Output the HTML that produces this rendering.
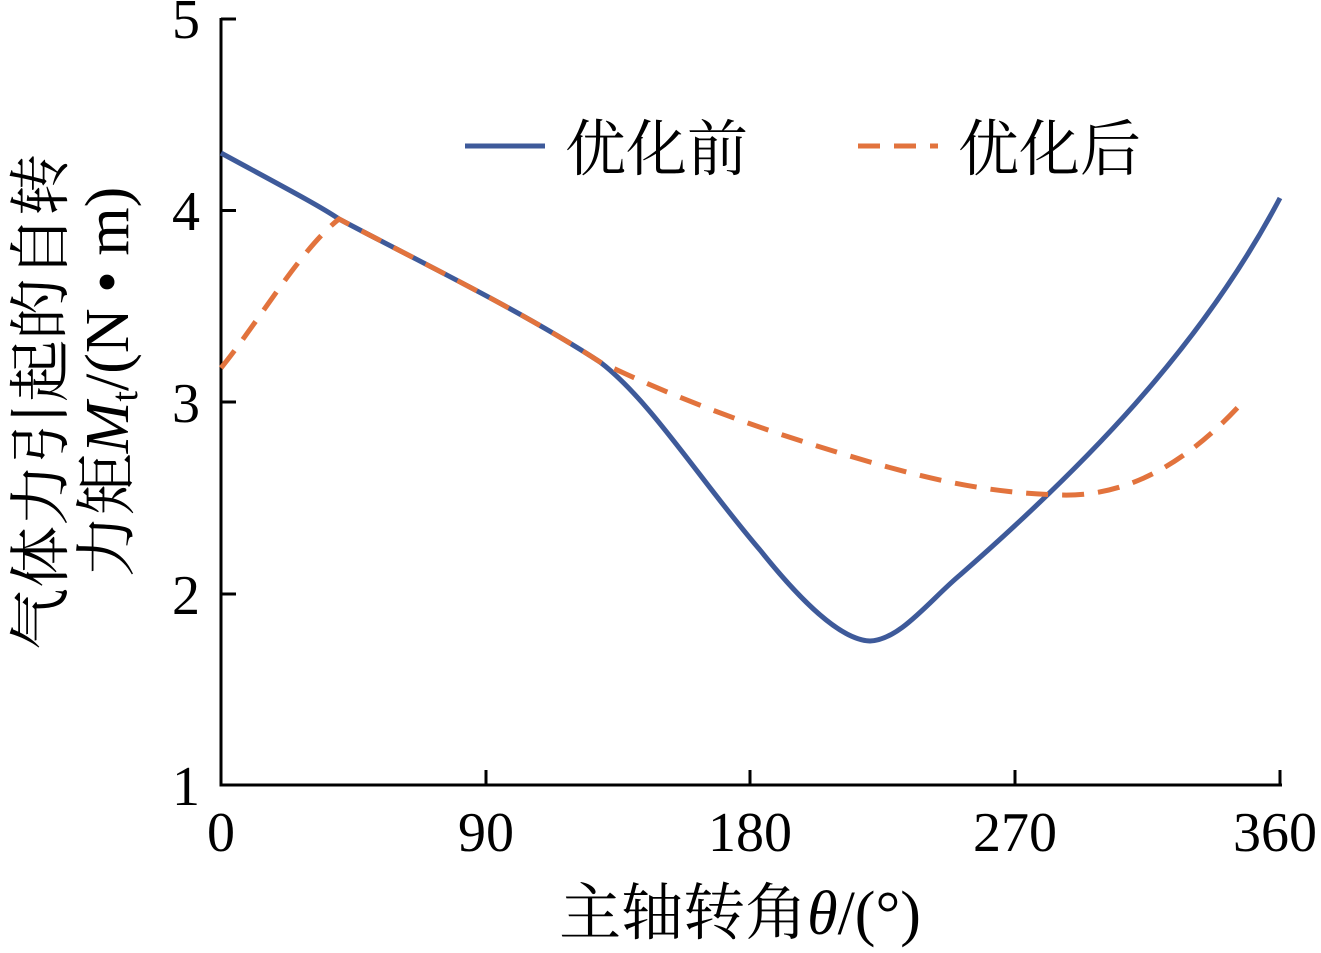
<!DOCTYPE html>
<html><head><meta charset="utf-8"><style>
html,body{margin:0;padding:0;background:#fff;}
</style></head><body>
<svg width="1321" height="948" viewBox="0 0 1321 948" xmlns="http://www.w3.org/2000/svg" font-family="Liberation Serif, Noto Serif CJK SC, serif">
<g stroke="#000" stroke-width="3" fill="none">
<line x1="221" y1="18" x2="221" y2="786"/>
<line x1="219.5" y1="785" x2="1282" y2="785"/>
<line x1="221" y1="19" x2="236" y2="19"/>
<line x1="221" y1="210.5" x2="236" y2="210.5"/>
<line x1="221" y1="402" x2="236" y2="402"/>
<line x1="221" y1="594" x2="236" y2="594"/>
<line x1="486" y1="785" x2="486" y2="770"/>
<line x1="750" y1="785" x2="750" y2="770"/>
<line x1="1015" y1="785" x2="1015" y2="770"/>
<line x1="1280" y1="785" x2="1280" y2="770"/>
</g>
<g font-size="56" text-anchor="end" fill="#000">
<text x="200" y="38">5</text>
<text x="200" y="230">4</text>
<text x="200" y="422">3</text>
<text x="200" y="614">2</text>
<text x="200" y="805">1</text>
</g>
<g font-size="56" text-anchor="middle" fill="#000">
<text x="221" y="851">0</text>
<text x="486" y="851">90</text>
<text x="750" y="851">180</text>
<text x="1015" y="851">270</text>
<text x="1275" y="851">360</text>
</g>
<text x="740" y="934" font-size="62" text-anchor="middle">主轴转角<tspan font-style="italic">θ</tspan>/(°)</text>
<g transform="translate(62,402) rotate(-90)" font-size="62" text-anchor="middle">
<text x="0" y="0">气体力引起的自转</text>
<text x="20" y="66">力矩<tspan font-style="italic">M</tspan><tspan font-size="38" dy="9">t</tspan><tspan dy="-9">/(N • m)</tspan></text>
</g>
<path d="M221,153 C280,185 320,206 339,219 C420,262 520,310 600,362 C650,400 700,480 760,550 C800,600 840,640 870,641 C900,640 930,600 960,575 C1080,470 1200,350 1280,198" stroke="#3e5a9a" stroke-width="5" fill="none"/>
<path d="M221,368 C260,320 300,250 339,219 C420,262 520,310 600,362 C680,400 760,430 870,462 C950,485 1000,493 1060,495 C1120,497 1180,470 1240,405" stroke="#e2733d" stroke-width="5" fill="none" stroke-dasharray="22,14"/>
<line x1="465" y1="146" x2="545" y2="146" stroke="#3e5a9a" stroke-width="5"/>
<text x="565" y="170" font-size="61">优化前</text>
<line x1="858" y1="146" x2="938" y2="146" stroke="#e2733d" stroke-width="5" stroke-dasharray="22,14"/>
<text x="958" y="170" font-size="61">优化后</text>
</svg>
</body></html>
